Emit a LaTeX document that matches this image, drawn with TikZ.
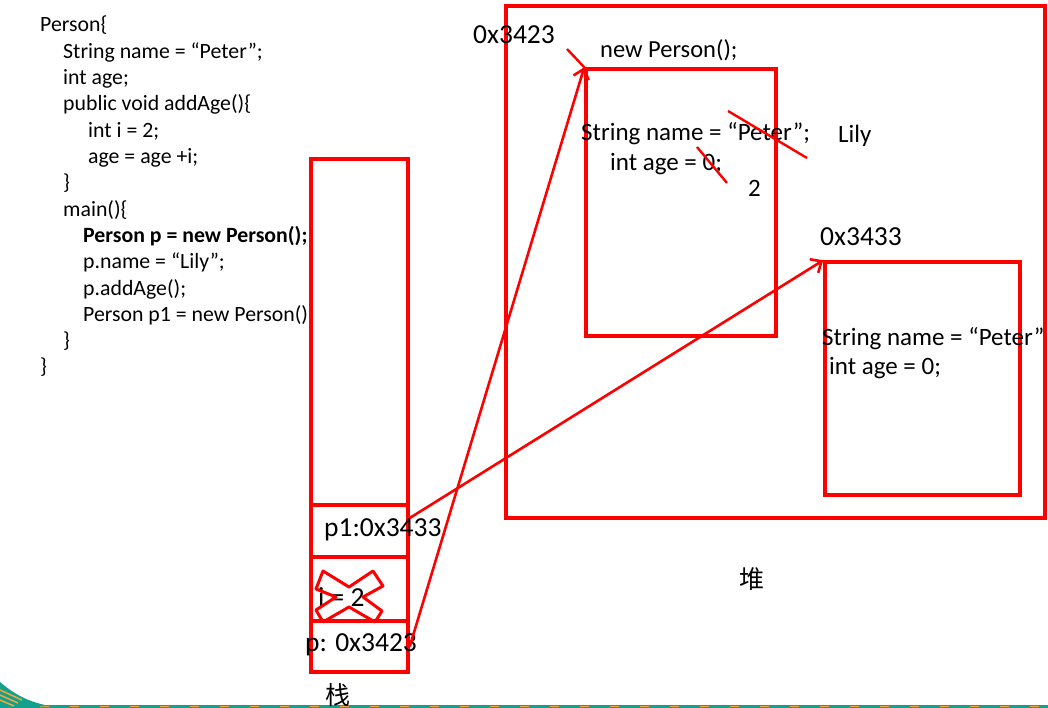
\documentclass[tikz,border=0pt]{standalone}
\usepackage{fontspec}
\setmainfont{Carlito}
\newfontfamily\cjk{Noto Sans CJK SC}
\usetikzlibrary{arrows.meta}

\definecolor{slideteal}{RGB}{20,160,140}
\definecolor{slideorange}{RGB}{245,165,60}

\begin{document}
\begin{tikzpicture}[x=1pt,y=-1pt,
  box/.style={draw=red,line width=3.5pt,inner sep=0pt},
  ref/.style={draw=red,line width=2.6pt,-{Straight Barb[length=9pt,width=16pt,line width=2.6pt]}},
  strike/.style={draw=red,line width=2.4pt},
  code/.style={anchor=west,inner sep=0pt,font=\fontsize{21.8}{26}\selectfont,text height=19pt,text depth=3pt},
  big/.style={anchor=west,inner sep=0pt,font=\fontsize{25}{30}\selectfont,text height=20pt,text depth=3pt},
  addr/.style={big,font=\fontsize{27.5}{32}\selectfont},
  cjklabel/.style={inner sep=0pt,font=\cjk\fontsize{25}{30}\selectfont}]
  \useasboundingbox (0,0) rectangle (1048,708);
  % slide decoration at the bottom
  \fill[slideteal] (0,705) rectangle (1048,708);
  \foreach \x in {10,40,...,1040} {
    \draw[slideorange,line width=1.2pt] (\x,706.5) -- (\x+9,706.5);
  }
  \fill[slideteal] (0,682) .. controls (14,694) and (28,702) .. (50,706) -- (0,708) -- cycle;
  \foreach \k in {0,1,2} {
    \draw[slideorange,line width=1.5pt] (0,{690+5*\k}) -- ({22-4*\k},{700+3*\k});
  }
  % source code
  \foreach \n/\x/\t in {1/40/Person\{, 2/63/String name = “Peter”;, 3/63/int age;,
      4/63/public void addAge()\{, 5/88/int i = 2;, 6/88/age = age +i;, 7/63/\},
      8/63/main()\{, 9/83/{\textbf{Person p = new Person();}}, 10/83/p.name = “Lily”;,
      11/83/p.addAge();, 12/83/Person p1 = new Person(), 13/63/\}, 14/40/\}} {
    \node[code] (c\n) at (\x,{24+(\n-1)*26.3}) {\t};
  }
  % heap
  \node[box,minimum width=539pt,minimum height=512pt] (heap) at (775.5,262) {};
  \node[box,minimum width=190pt,minimum height=267pt] (obj1) at (681,202.5) {};
  \node[box,minimum width=195pt,minimum height=233pt] (obj2) at (922.5,378.5) {};
  \node[addr] (addr1) at (473,35) {0x3423};
  \node[big,font=\fontsize{24.5}{30}\selectfont] (newp) at (600,49) {new Person();};
  \node[big] (name1) at (581,132) {String name = “Peter”;};
  \node[big] (age1) at (610,162) {int age = 0;};
  \node[big] (lily) at (838,134) {Lily};
  \node[big] (two) at (748,188) {2};
  \node[addr] (addr2) at (820,237) {0x3433};
  \node[big] (name2) at (822,337) {String name = “Peter”};
  \node[big] (age2) at (829,366) {int age = 0;};
  \node[cjklabel] (heaplbl) at (752,579) {堆};
  \coordinate (addr1end) at (567,49);
  \draw[strike] (addr1end) -- (obj1.north west);
  \draw[strike] (728,111) -- (807,158);
  \draw[strike] (697,147) -- (727,183);
  % stack
  \node[box,minimum width=97pt,minimum height=513pt] (stack) at (359.5,415.5) {};
  \node[box,minimum width=97pt,minimum height=52pt] (p1cell) at (359.5,531) {};
  \node[box,minimum width=97pt,minimum height=64pt] (icell) at (359.5,589) {};
  \node[box,minimum width=97pt,minimum height=51pt] (pcell) at (359.5,646.5) {};
  \node[addr] (p1val) at (324,528) {p1:0x3433};
  \node[addr] (ival) at (318,598) {i = 2};
  \node[addr] (pval) at (305,643) {p: 0x3423};
  \node[cjklabel] (stacklbl) at (338,695) {栈};
  \draw[red,line width=3pt,line join=round] (323,571) -- (349,587) -- (373,571) -- (383,586)
    -- (363,597) -- (382,611) -- (375,622) -- (349,607) -- (323,622) -- (316,610)
    -- (336,597) -- (316,589) -- cycle;
  % references
  \draw[ref] (pcell.east) -- (obj1.north west);
  \draw[ref] ([yshift=13pt]p1cell.east) -- (obj2.north west);
\end{tikzpicture}
\end{document}
